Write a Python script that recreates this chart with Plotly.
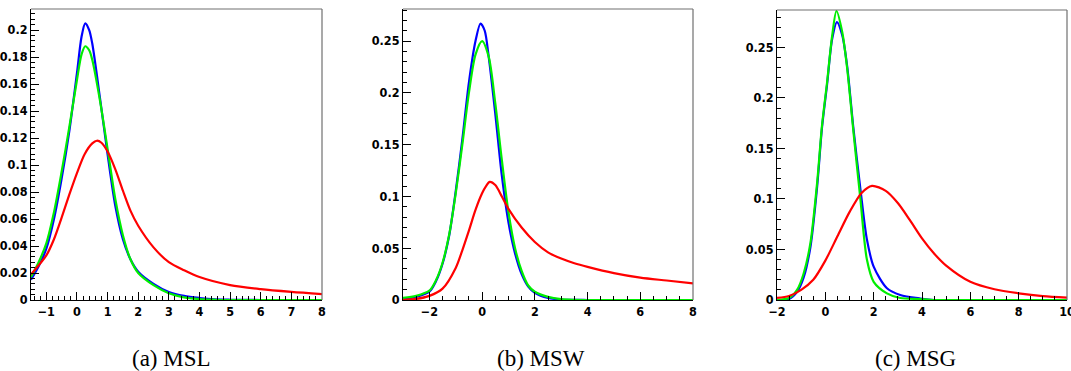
import plotly.graph_objects as go

# ---------------- data ----------------
# (a) MSL
msl_blue_x = [-1.5, -1.25, -1.0, -0.75, -0.5, -0.25, 0.0, 0.15, 0.27, 0.4, 0.5, 0.75, 1.0, 1.25, 1.5, 1.75, 2.0, 2.5, 3.0, 3.5, 4.0, 4.5, 5.0, 6.0, 7.0, 8.0]
msl_blue_y = [0.015, 0.025, 0.038, 0.06, 0.09, 0.125, 0.168, 0.195, 0.205, 0.2, 0.19, 0.15, 0.108, 0.07, 0.045, 0.03, 0.021, 0.012, 0.006, 0.003, 0.0015, 0.0005, 0.0002, 0.0, 0.0, 0.0]
msl_green_x = [-1.5, -1.25, -1.0, -0.75, -0.5, -0.25, 0.0, 0.15, 0.27, 0.4, 0.5, 0.75, 1.0, 1.25, 1.5, 1.75, 2.0, 2.5, 3.0, 3.5, 4.0, 4.5, 5.0, 6.0, 7.0, 8.0]
msl_green_y = [0.017, 0.028, 0.042, 0.065, 0.095, 0.128, 0.163, 0.182, 0.188, 0.185, 0.178, 0.148, 0.112, 0.075, 0.048, 0.03, 0.02, 0.011, 0.005, 0.002, 0.0007, 0.0002, 0.0, 0.0, 0.0, 0.0]
msl_red_x = [-1.5, -1.0, -0.75, -0.5, -0.25, 0.0, 0.25, 0.5, 0.65, 0.8, 1.0, 1.25, 1.5, 1.75, 2.0, 2.5, 3.0, 3.5, 4.0, 5.0, 6.0, 7.0, 8.0]
msl_red_y = [0.019, 0.033, 0.045, 0.061, 0.078, 0.094, 0.108, 0.116, 0.118, 0.1165, 0.11, 0.097, 0.081, 0.066, 0.055, 0.039, 0.028, 0.022, 0.017, 0.011, 0.008, 0.006, 0.0044]

# (b) MSW
msw_blue_x = [-3.0, -2.5, -2.0, -1.75, -1.5, -1.25, -1.0, -0.75, -0.5, -0.25, -0.06, 0.1, 0.25, 0.5, 0.75, 1.0, 1.25, 1.5, 1.75, 2.0, 2.5, 3.0, 4.0, 6.0, 8.0]
msw_blue_y = [0.001, 0.003, 0.008, 0.018, 0.035, 0.062, 0.105, 0.155, 0.21, 0.25, 0.267, 0.26, 0.235, 0.18, 0.12, 0.075, 0.045, 0.025, 0.013, 0.007, 0.002, 0.0005, 0.0, 0.0, 0.0]
msw_green_x = [-3.0, -2.5, -2.0, -1.75, -1.5, -1.25, -1.0, -0.75, -0.5, -0.25, 0.0, 0.25, 0.5, 0.75, 1.0, 1.25, 1.5, 1.75, 2.0, 2.5, 3.0, 3.5, 4.0, 6.0, 8.0]
msw_green_y = [0.002, 0.004, 0.009, 0.019, 0.036, 0.063, 0.103, 0.15, 0.2, 0.237, 0.25, 0.235, 0.19, 0.135, 0.085, 0.05, 0.028, 0.014, 0.008, 0.003, 0.0008, 0.0002, 0.0, 0.0, 0.0]
msw_red_x = [-3.0, -2.5, -2.0, -1.5, -1.0, -0.75, -0.5, -0.25, 0.0, 0.15, 0.29, 0.5, 0.75, 1.0, 1.5, 2.0, 2.5, 3.0, 3.5, 4.0, 5.0, 6.0, 7.0, 8.0]
msw_red_y = [0.0, 0.001, 0.004, 0.011, 0.031, 0.048, 0.067, 0.087, 0.103, 0.11, 0.114, 0.111, 0.1, 0.088, 0.07, 0.056, 0.046, 0.04, 0.0355, 0.032, 0.026, 0.0216, 0.0188, 0.016]

# (c) MSG
msg_blue_x = [-2.0, -1.5, -1.17, -0.9, -0.62, -0.34, -0.14, 0.07, 0.28, 0.48, 0.7, 0.9, 1.17, 1.45, 1.72, 2.0, 2.55, 3.1, 3.93, 4.5, 6.0, 8.0, 10.0]
msg_blue_y = [0.0, 0.001, 0.008, 0.022, 0.052, 0.112, 0.17, 0.213, 0.258, 0.275, 0.262, 0.232, 0.168, 0.11, 0.06, 0.033, 0.0116, 0.005, 0.0015, 0.0, 0.0, 0.0, 0.0]
msg_green_x = [-2.0, -1.5, -1.17, -0.9, -0.62, -0.34, -0.14, 0.07, 0.28, 0.46, 0.7, 0.9, 1.17, 1.45, 1.72, 2.0, 2.55, 3.1, 3.93, 4.5, 6.0, 8.0, 10.0]
msg_green_y = [0.0, 0.002, 0.01, 0.026, 0.056, 0.116, 0.172, 0.215, 0.261, 0.286, 0.265, 0.23, 0.165, 0.1, 0.04, 0.018, 0.0066, 0.002, 0.001, 0.0, 0.0, 0.0, 0.0]
msg_red_x = [-2.0, -1.5, -1.0, -0.5, 0.0, 0.5, 1.0, 1.5, 1.93, 2.5, 3.0, 3.5, 4.0, 4.5, 5.0, 6.0, 7.0, 8.0, 9.0, 10.0]
msg_red_y = [0.002, 0.004, 0.01, 0.02, 0.039, 0.063, 0.087, 0.106, 0.113, 0.108, 0.096, 0.079, 0.061, 0.046, 0.034, 0.018, 0.0106, 0.0066, 0.0038, 0.0023]

captions = ["(a) MSL", "(b) MSW", "(c) MSG"]

x_ranges = [[-1.5, 8.0], [-3.0, 8.0], [-2.0, 10.0]]
y_ranges = [[0.0, 0.2156], [0.0, 0.281], [0.0, 0.287]]
x_tickvals = [[-1, 0, 1, 2, 3, 4, 5, 6, 7, 8], [-2, 0, 2, 4, 6, 8], [-2, 0, 2, 4, 6, 8, 10]]
y_tickvals = [[0, 0.02, 0.04, 0.06, 0.08, 0.1, 0.12, 0.14, 0.16, 0.18, 0.2],
              [0, 0.05, 0.1, 0.15, 0.2, 0.25],
              [0, 0.05, 0.1, 0.15, 0.2, 0.25]]
y_ticktext = [["0", "0.02", "0.04", "0.06", "0.08", "0.1", "0.12", "0.14", "0.16", "0.18", "0.2"],
              ["0", "0.05", "0.1", "0.15", "0.2", "0.25"],
              ["0", "0.05", "0.1", "0.15", "0.2", "0.25"]]
x_minor = [0.2, 0.5, 0.5]
y_minor = [0.004, 0.01, 0.01]

panels = [
    [(msl_blue_x, msl_blue_y), (msl_green_x, msl_green_y), (msl_red_x, msl_red_y)],
    [(msw_blue_x, msw_blue_y), (msw_green_x, msw_green_y), (msw_red_x, msw_red_y)],
    [(msg_blue_x, msg_blue_y), (msg_green_x, msg_green_y), (msg_red_x, msg_red_y)],
]
colors = ["#0000ff", "#00ee00", "#ff0000"]

# ---------------- layout geometry ----------------
W, H = 1071, 371
x_domains = [[31 / W, 322 / W], [403 / W, 693 / W], [777 / W, 1067 / W]]
y_domains = [[(H - 300) / H, (H - 9) / H], [(H - 300) / H, (H - 9) / H], [(H - 300) / H, (H - 10) / H]]
caption_x = [171 / W, 541 / W, 915 / W]

tick_font = dict(family="Liberation Sans Narrow, DejaVu Sans Condensed, Arial Narrow, Arial",
                 size=12.5, color="black", weight=700)

fig = go.Figure()
layout = dict(width=W, height=H, margin=dict(l=0, r=0, t=0, b=0, autoexpand=False),
              paper_bgcolor="white", plot_bgcolor="white", showlegend=False)
shapes = []
annotations = []

for i in range(3):
    xa = "x" if i == 0 else f"x{i+1}"
    ya = "y" if i == 0 else f"y{i+1}"
    for (xs, ys), c in zip(panels[i], colors):
        fig.add_trace(go.Scatter(x=xs, y=ys, mode="lines", xaxis=xa, yaxis=ya,
                                 line=dict(color=c, width=2.2, shape="spline", smoothing=0.8),
                                 hoverinfo="skip"))
    xkey = "xaxis" if i == 0 else f"xaxis{i+1}"
    ykey = "yaxis" if i == 0 else f"yaxis{i+1}"
    layout[xkey] = dict(domain=x_domains[i], anchor=ya, range=x_ranges[i], automargin=False,
                        tickvals=x_tickvals[i], ticks="inside", ticklen=8, tickwidth=1,
                        tickcolor="black", showline=True, linecolor="black", linewidth=1,
                        showgrid=False, zeroline=False, tickfont=tick_font,
                        ticklabeloverflow="allow",
                        minor=dict(dtick=x_minor[i], tick0=0, ticks="inside", ticklen=4,
                                   tickcolor="black", showgrid=False))
    layout[ykey] = dict(domain=y_domains[i], anchor=xa, range=y_ranges[i], automargin=False,
                        tickvals=y_tickvals[i], ticktext=y_ticktext[i], ticks="inside", ticklen=8,
                        tickwidth=1, tickcolor="black", showline=True, linecolor="black",
                        linewidth=1, showgrid=False, zeroline=False, tickfont=tick_font,
                        ticklabeloverflow="allow",
                        minor=dict(dtick=y_minor[i], tick0=0, ticks="inside", ticklen=4,
                                   tickcolor="black", showgrid=False))
    shapes.append(dict(type="line", xref=f"{xa} domain", yref=f"{ya} domain",
                       x0=0, x1=1, y0=1, y1=1, line=dict(color="#707070", width=1.2)))
    shapes.append(dict(type="line", xref=f"{xa} domain", yref=f"{ya} domain",
                       x0=1, x1=1, y0=0, y1=1, line=dict(color="#707070", width=1.2)))
    annotations.append(dict(text=captions[i], xref="paper", yref="paper", x=caption_x[i],
                            y=(H - 358) / H, xanchor="center", yanchor="middle", showarrow=False,
                            font=dict(family="Liberation Serif, Times New Roman, serif", size=23,
                                      color="black")))

layout["shapes"] = shapes
layout["annotations"] = annotations
fig.update_layout(**layout)
fig.write_html("out.html", config={"displayModeBar": False, "staticPlot": True},
               post_script="document.body.style.margin='0';document.body.style.overflow='hidden';")
